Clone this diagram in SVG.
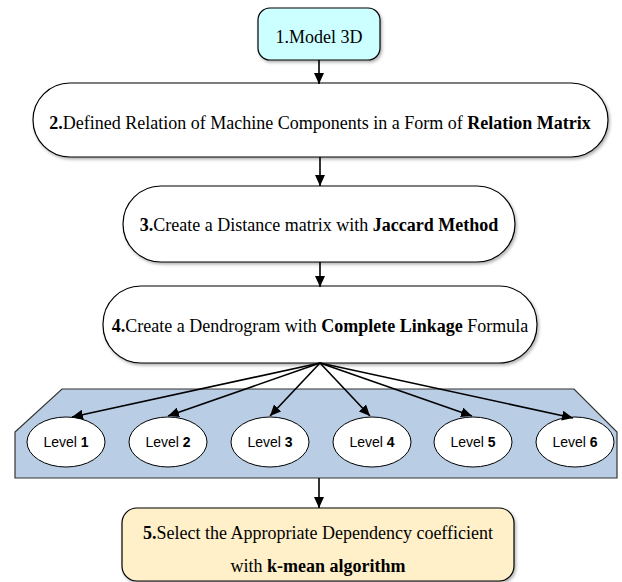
<svg xmlns="http://www.w3.org/2000/svg" width="622" height="582" viewBox="0 0 622 582">
<style>
.box{stroke:#000;stroke-width:1.2;filter:url(#sh)}
.t{font-family:"Liberation Serif","Times New Roman",serif;font-size:18px;fill:#000;text-anchor:middle}
.b{font-weight:bold}
.lv{font-family:"Liberation Sans",Arial,sans-serif;font-size:14px;fill:#000;text-anchor:middle}
.ell{fill:#fff;stroke:#000;stroke-width:1}
.c{stroke:#000;stroke-width:1.6;fill:none;marker-end:url(#ah)}
</style>
<defs>
<filter id="sh" x="-10%" y="-10%" width="120%" height="130%">
<feDropShadow dx="1.5" dy="2" stdDeviation="1.5" flood-color="#000" flood-opacity="0.3"/>
</filter>
<marker id="ah" markerWidth="12" markerHeight="10" refX="11" refY="5" orient="auto" markerUnits="userSpaceOnUse">
<path d="M0,0 L11,5 L0,10 Z" fill="#000"/>
</marker>
</defs>
<rect width="622" height="582" fill="#fff"/>
<g id="n1"><rect class="box" x="258" y="8" width="122" height="52" rx="12" fill="#ccffff"/><text class="t" x="319" y="43">1.Model 3D</text></g>
<g id="n2"><rect class="box" x="33" y="83" width="575" height="74" rx="37" fill="#fff"/><text class="t" x="320" y="129"><tspan class="b">2.</tspan>Defined Relation of Machine Components in a Form of <tspan class="b">Relation Matrix</tspan></text></g>
<g id="n3"><rect class="box" x="123" y="186" width="392" height="76" rx="38" fill="#fff"/><text class="t" x="319" y="231"><tspan class="b">3.</tspan>Create a Distance matrix with <tspan class="b">Jaccard Method</tspan></text></g>
<g id="n4"><rect class="box" x="103" y="286" width="434" height="77" rx="38" fill="#fff"/><text class="t" x="320" y="332"><tspan class="b">4.</tspan>Create a Dendrogram with <tspan class="b">Complete Linkage</tspan> Formula</text></g>
<g id="panel"><polygon points="62,389 574,389 617,432 617,478 15,478 15,432" fill="#b9cde5" stroke="#333" stroke-width="1.2"/></g>
<g id="l1"><ellipse class="ell" cx="66" cy="442" rx="39" ry="25"/><text class="lv" x="66" y="447">Level <tspan class="b">1</tspan></text></g>
<g id="l2"><ellipse class="ell" cx="168" cy="442" rx="39" ry="25"/><text class="lv" x="168" y="447">Level <tspan class="b">2</tspan></text></g>
<g id="l3"><ellipse class="ell" cx="270" cy="442" rx="39" ry="25"/><text class="lv" x="270" y="447">Level <tspan class="b">3</tspan></text></g>
<g id="l4"><ellipse class="ell" cx="372" cy="442" rx="39" ry="25"/><text class="lv" x="372" y="447">Level <tspan class="b">4</tspan></text></g>
<g id="l5"><ellipse class="ell" cx="473" cy="442" rx="39" ry="25"/><text class="lv" x="473" y="447">Level <tspan class="b">5</tspan></text></g>
<g id="l6"><ellipse class="ell" cx="575" cy="442" rx="39" ry="25"/><text class="lv" x="575" y="447">Level <tspan class="b">6</tspan></text></g>
<g id="n5"><rect class="box" x="122" y="508" width="392" height="73" rx="15" fill="#fff0c9"/><text class="t" x="318" y="539"><tspan class="b">5.</tspan>Select the Appropriate Dependency coefficient</text><text class="t" x="318" y="572">with <tspan class="b">k-mean algorithm</tspan></text></g>
<g id="connectors">
<line class="c" x1="319" y1="60" x2="319" y2="84"/>
<line class="c" x1="320" y1="157" x2="320" y2="186"/>
<line class="c" x1="320" y1="262" x2="320" y2="287"/>
<line class="c" x1="320" y1="363" x2="72" y2="417"/>
<line class="c" x1="320" y1="363" x2="168" y2="416"/>
<line class="c" x1="320" y1="363" x2="270" y2="416"/>
<line class="c" x1="320" y1="363" x2="370" y2="416"/>
<line class="c" x1="320" y1="363" x2="472" y2="416"/>
<line class="c" x1="320" y1="363" x2="573" y2="418"/>
<line class="c" x1="319" y1="478" x2="319" y2="508"/>
</g>
</svg>
